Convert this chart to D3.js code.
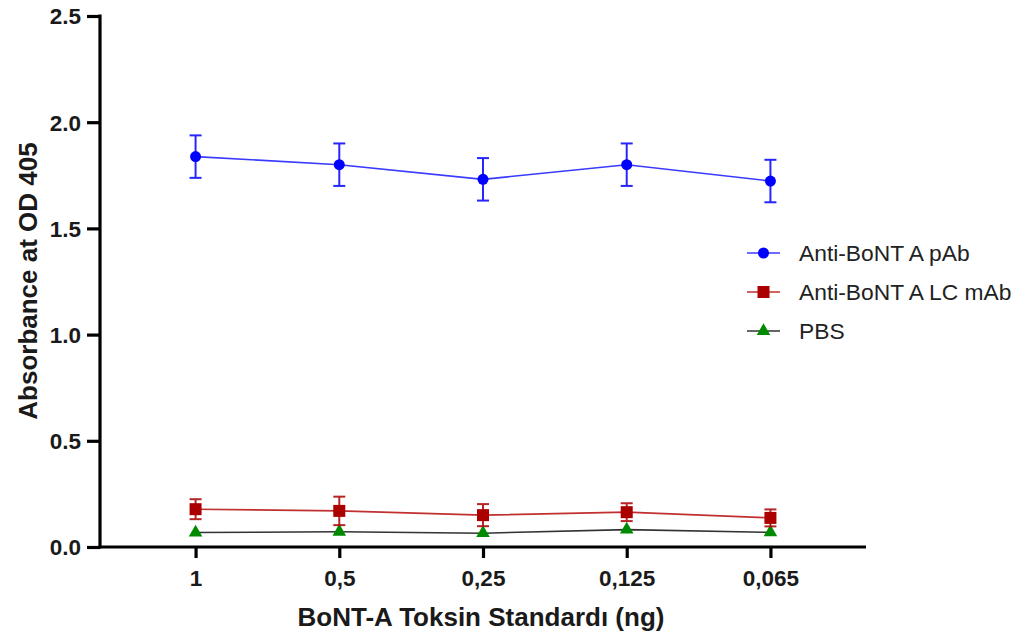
<!DOCTYPE html>
<html>
<head>
<meta charset="utf-8">
<script src="https://cdn.jsdelivr.net/npm/d3@7"></script>
<style>
  body { margin: 0; background: #fff; }
  svg { display: block; font-family: "Liberation Sans", Arial, sans-serif; }
</style>
</head>
<body>
<svg id="chart" width="1019" height="640"></svg>
<script>
// Toxin standard amounts (ng) along the x axis
const categories = ["1", "0,5", "0,25", "0,125", "0,065"];

// Mean absorbance at OD 405 and error (±) per series
const pAbMean = [1.838, 1.80, 1.731, 1.80, 1.723];
const pAbErr  = [0.10, 0.10, 0.10, 0.10, 0.10];
const lcMean  = [0.178, 0.170, 0.150, 0.164, 0.137];
const lcErr   = [0.047, 0.067, 0.052, 0.042, 0.040];
const pbsMean = [0.068, 0.072, 0.065, 0.082, 0.069];
const pbsErr  = [0.0, 0.0, 0.0, 0.0, 0.0];

const yTicks = [0.0, 0.5, 1.0, 1.5, 2.0, 2.5];

const series = [
  { name: "Anti-BoNT A pAb",    mean: pAbMean, err: pAbErr, line: "#3a3aff", fill: "#0000ff", shape: "circle" },
  { name: "Anti-BoNT A LC mAb", mean: lcMean,  err: lcErr,  line: "#c03030", fill: "#aa0000", shape: "square" },
  { name: "PBS",                mean: pbsMean, err: pbsErr, line: "#333333", fill: "#008a00", shape: "triangle" }
];

const svg = d3.select("#chart");
const plotLeft = 100, plotRight = 866, plotTop = 16, plotBottom = 547;

const x = d3.scalePoint().domain(categories).range([plotLeft, plotRight]).padding(0.665);
const y = d3.scaleLinear().domain([0, 2.5]).range([plotBottom, plotTop]);

// Axes
const yAxis = svg.append("g").attr("transform", `translate(${plotLeft},0)`)
  .call(d3.axisLeft(y).tickValues(yTicks).tickFormat(d3.format(".1f")).tickSize(13).tickSizeOuter(0));
const xAxis = svg.append("g").attr("transform", `translate(0,${plotBottom})`)
  .call(d3.axisBottom(x).tickSize(11).tickSizeOuter(0));

[yAxis, xAxis].forEach(g => {
  g.attr("font-family", null).attr("font-size", null);
  g.select(".domain").attr("stroke", "#000").attr("stroke-width", 3.2);
  g.selectAll(".tick line").attr("stroke", "#000").attr("stroke-width", 3.2);
  g.selectAll(".tick text").attr("fill", "#1a1a1a").attr("font-size", 22.5)
    .attr("font-weight", "bold");
});
yAxis.select(".domain").attr("d", `M0,${plotTop - 1.5}V${plotBottom + 1.5}`);
xAxis.select(".domain").attr("d", `M${plotLeft - 1.5},0H${plotRight}`);
yAxis.selectAll(".tick text").attr("x", -19).attr("dy", "0.35em");
xAxis.selectAll(".tick text").attr("y", 31).attr("dy", "0.35em");

// Axis titles
svg.append("text")
  .attr("x", 481).attr("y", 626)
  .attr("text-anchor", "middle")
  .attr("font-size", 26).attr("font-weight", "bold").attr("fill", "#1a1a1a")
  .text("BoNT-A Toksin Standardı (ng)");
svg.append("text")
  .attr("transform", "translate(37,281) rotate(-90)")
  .attr("text-anchor", "middle")
  .attr("font-size", 26).attr("font-weight", "bold").attr("fill", "#1a1a1a")
  .text("Absorbance at OD 405");

function marker(g, shape, color) {
  if (shape === "circle") {
    g.append("circle").attr("r", 5.5).attr("fill", color);
  } else if (shape === "square") {
    g.append("rect").attr("x", -6).attr("y", -6).attr("width", 12).attr("height", 12).attr("fill", color);
  } else {
    g.append("path").attr("d", d3.symbol().type(d3.symbolTriangle).size(80)()).attr("fill", color);
  }
}

const line = d3.line().x((d, i) => x(categories[i])).y(d => y(d));

// Draw series back to front
series.slice().reverse().forEach(s => {
  const g = svg.append("g");
  g.append("path").datum(s.mean).attr("d", line)
    .attr("fill", "none").attr("stroke", s.line).attr("stroke-width", 1.6);
  s.mean.forEach((m, i) => {
    const cx = x(categories[i]);
    if (s.err[i] > 0) {
      const eb = g.append("g").attr("stroke", s.fill).attr("stroke-width", 2).attr("opacity", 0.85);
      eb.append("line").attr("x1", cx).attr("x2", cx).attr("y1", y(m + s.err[i])).attr("y2", y(m - s.err[i]));
      eb.append("line").attr("x1", cx - 6).attr("x2", cx + 6).attr("y1", y(m + s.err[i])).attr("y2", y(m + s.err[i]));
      eb.append("line").attr("x1", cx - 6).attr("x2", cx + 6).attr("y1", y(m - s.err[i])).attr("y2", y(m - s.err[i]));
    }
    const mg = g.append("g").attr("transform", `translate(${cx},${y(m)})`);
    marker(mg, s.shape, s.fill);
  });
});

// Legend
const legend = svg.append("g").attr("transform", "translate(747,253)");
series.forEach((s, i) => {
  const row = legend.append("g").attr("transform", `translate(0,${i * 39})`);
  row.append("line").attr("x1", 0).attr("x2", 33).attr("y1", 0).attr("y2", 0)
    .attr("stroke", s.line).attr("stroke-width", 1.6);
  const mg = row.append("g").attr("transform", "translate(16.5,0)");
  marker(mg, s.shape, s.fill);
  row.append("text").attr("x", 52).attr("y", 0).attr("dy", "0.35em")
    .attr("font-size", 22.8).attr("fill", "#222").text(s.name);
});
</script>
</body>
</html>
